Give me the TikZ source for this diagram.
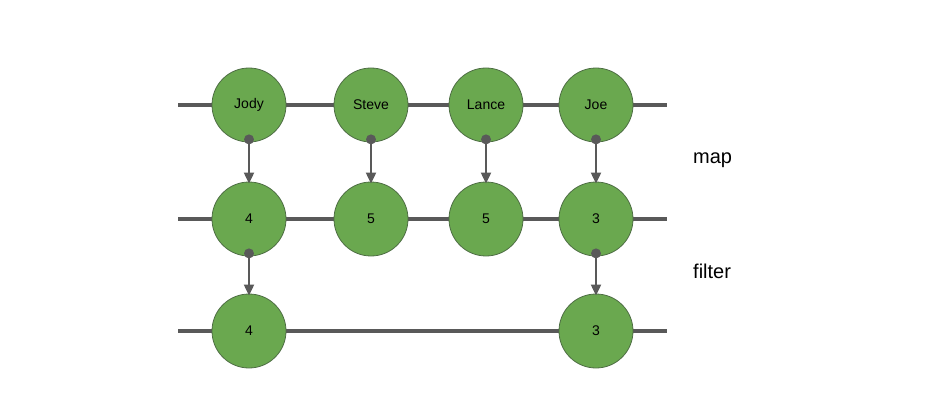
\documentclass[tikz,border=0pt]{standalone}
\usepackage{fontspec}
\setmainfont{Liberation Sans}
\usetikzlibrary{arrows.meta}
\definecolor{ballgreen}{HTML}{6AA84F}
\definecolor{linegrey}{HTML}{595959}
\definecolor{rimgrey}{HTML}{4E6E44}
\begin{document}
\begin{tikzpicture}[x=1pt,y=-1pt,
  ball/.style={circle,draw=rimgrey,line width=0.8pt,fill=ballgreen,minimum size=74pt,inner sep=0pt,font=\fontsize{14}{16}\selectfont},
  stream/.style={draw=linegrey,line width=4pt},
  flow/.style={draw=linegrey,line width=2pt,-{Triangle[length=11pt,width=10pt]}},
  lbl/.style={font=\fontsize{20}{24}\selectfont,anchor=west,inner sep=0pt}]
\useasboundingbox (0,0) rectangle (940,417);
% stream lines
\coordinate (l1) at (178,105); \coordinate (r1) at (667,105);
\coordinate (l2) at (178,219); \coordinate (r2) at (667,219);
\coordinate (l3) at (178,331); \coordinate (r3) at (667,331);
\draw[stream] (l1) -- (r1);
\draw[stream] (l2) -- (r2);
\draw[stream] (l3) -- (r3);
% row 1
\node[ball] (a1) at (249,105) {Jody};
\node[ball] (b1) at (371,105) {Steve};
\node[ball] (c1) at (486,105) {Lance};
\node[ball] (d1) at (596,105) {Joe};
% row 2
\node[ball] (a2) at (249,219) {4};
\node[ball] (b2) at (371,219) {5};
\node[ball] (c2) at (486,219) {5};
\node[ball] (d2) at (596,219) {3};
% row 3
\node[ball] (a3) at (249,331) {4};
\node[ball] (d3) at (596,331) {3};
% arrows
\foreach \s/\t in {a1/a2,b1/b2,c1/c2,d1/d2,a2/a3,d2/d3}{
  \fill[linegrey] ([yshift=3pt]\s.south) circle (5pt);
  \draw[flow] ([yshift=3pt]\s.south) -- ([yshift=-2pt]\t.north);
}
\node[lbl] (map) at (693,160) {map};
\node[lbl] (filter) at (693,271) {filter};
\end{tikzpicture}
\end{document}
